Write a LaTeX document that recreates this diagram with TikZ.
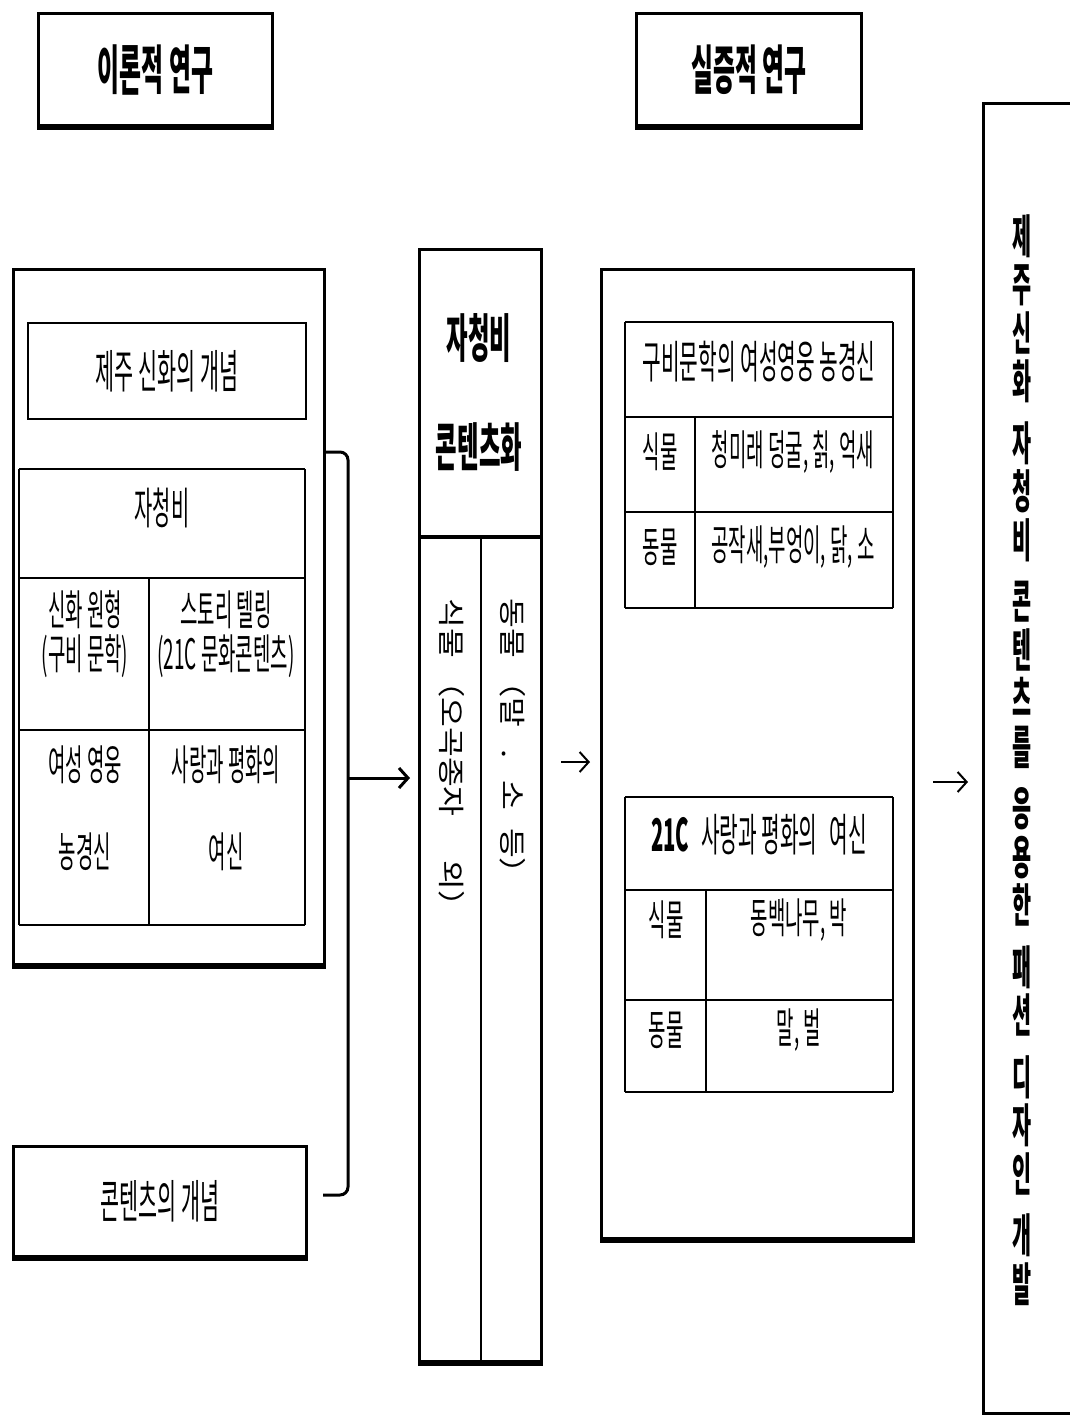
\documentclass[tikz,border=0pt]{standalone}
\usepackage{fontspec}
\usepackage{tikz}
\usetikzlibrary{arrows.meta}
\newfontfamily\krfont[FakeStretch=0.45]{Noto Sans CJK KR}
\newfontfamily\krwide[FakeStretch=1.2]{Noto Sans CJK KR}
\begin{document}
\begin{tikzpicture}[x=1pt,y=-1pt,>={Straight Barb[length=9pt,width=20pt]},
			frame/.style={draw,line width=3pt,anchor=north west,inner sep=0pt},
			thin box/.style={draw,line width=1.6pt,anchor=north west,inner sep=0pt},
			shade line/.style={line width=4pt},
			grid line/.style={line width=1.8pt},
			col line/.style={line width=1.2pt},
			title text/.style={font=\krfont\bfseries\fontsize{53}{56}\selectfont},
			big text/.style={font=\krfont\bfseries\fontsize{52}{56}\selectfont},
			head text/.style={font=\krfont\fontsize{45}{48}\selectfont},
			cell text/.style={font=\krfont\fontsize{42}{44}\selectfont,align=center},
			side text/.style={font=\krwide\fontsize{27}{30}\selectfont,rotate=-90,anchor=west,inner sep=0pt},
			bracket/.style={line width=3pt,rounded corners=8pt},
			big arrow/.style={->,line width=3pt,shorten >=8pt},
			small arrow/.style={->,line width=2pt}
			]
			
			\useasboundingbox (0,0) rectangle (1070,1416);
			\clip (0,0) rectangle (1070,1416);
			
			\node[frame,minimum width=234pt,minimum height=112pt,title text] (theory) at (37,12) {이론적 연구};
			\node[frame,minimum width=225pt,minimum height=112pt,title text] (empirical) at (635,12) {실증적 연구};
			
			\node[frame,minimum width=311pt,minimum height=695pt] (leftframe) at (12,268) {};
			\node[thin box,minimum width=278pt,minimum height=96pt,font=\krfont\fontsize{46}{48}\selectfont] (mythconcept) at (27,322) {제주 신화의 개념};
			\foreach \y in {469,578,730,925}
				\draw[grid line] (19,\y) -- (305,\y);
			\draw[col line] (19,469) -- (19,925) (305,469) -- (305,925) (149,578) -- (149,925);
			\node[cell text,font=\krfont\fontsize{44}{46}\selectfont] (jcb) at (162,508) {자청비};
			\node[cell text] (archetype) at (85,634) {신화 원형\\(구비 문학)};
			\node[cell text] (storytelling) at (226,634) {스토리 텔링\\(21C 문화콘텐츠)};
			\node[cell text] (heroine) at (85,765) {여성 영웅};
			\node[cell text] (farmgod) at (85,852) {농경신};
			\node[cell text] (lovepeace) at (226,765) {사랑과 평화의};
			\node[cell text] (goddess) at (226,852) {여신};
			
			\node[frame,minimum width=293pt,minimum height=110pt,font=\krfont\fontsize{46}{48}\selectfont] (contentconcept) at (12,1145) {콘텐츠의 개념};
			
			\node[frame,minimum width=122pt,minimum height=1112pt] (contents) at (418,248) {};
			\draw[line width=4pt] (418,537) -- (540,537);
			\draw[line width=2.5pt] (481,537) -- (481,1360);
			\node[big text] (jcbtitle) at (479,338) {자청비};
			\node[big text] (contentize) at (479,447) {콘텐츠화};
			\node[side text] (plants) at (452,598) {식물 （오곡종자\hspace{44pt}외）};
			\node[side text] (animals) at (513,598) {동물 （말\hspace{22pt}.\hspace{22pt}소\hspace{18pt}등）};
			
			\node[frame,minimum width=312pt,minimum height=969pt] (fieldwork) at (600,268) {};
			\foreach \y in {322,417,512,608,797,890,1000,1092}
				\draw[grid line] (625,\y) -- (893,\y);
			\draw[col line] (625,322) -- (625,608) (893,322) -- (893,608) (695,417) -- (695,608);
			\draw[col line] (625,797) -- (625,1092) (893,797) -- (893,1092) (706,890) -- (706,1092);
			\node[head text] (oralhero) at (759,362) {구비문학의 여성영웅 농경신};
			\node[cell text] (plantsA) at (660,452) {식물};
			\node[cell text] (plantsAlist) at (793,452) {청미래 덩굴, 칡, 억새};
			\node[cell text] (animalsA) at (660,547) {동물};
			\node[cell text] (animalsAlist) at (793,547) {공작새,부엉이, 닭, 소};
			\node[head text] (peacehead) at (759,835) {\textbf{21C}\hspace{12pt}사랑과 평화의\hspace{12pt}여신};
			\node[cell text] (plantsB) at (666,920) {식물};
			\node[cell text] (plantsBlist) at (799,920) {동백나무, 박};
			\node[cell text] (animalsB) at (666,1030) {동물};
			\node[cell text] (animalsBlist) at (799,1030) {말, 벌};
			
			\node[frame,minimum width=200pt,minimum height=1310pt] (goal) at (982,102) {};
			\node[font=\krfont\bfseries\fontsize{46}{48.5}\selectfont,align=center] (goaltext) at (1022,760)
				{제\\주\\신\\화\\[13pt]자\\청\\비\\[13pt]콘\\텐\\츠\\를\\[13pt]응\\용\\한\\[13pt]패\\션\\[13pt]디\\자\\인\\[13pt]개\\발};
			
			\foreach \b in {theory,empirical,leftframe,contentconcept,contents,fieldwork}
				\draw[shade line] ([yshift=-1pt]\b.south west) -- ([yshift=-1pt]\b.south east);
			
			\coordinate (brtop) at (323,452);
			\coordinate (brbot) at (323,1195);
			\coordinate (brmid) at (348,778);
			\coordinate (midarrow) at (0,762);
			\coordinate (goalarrow) at (0,782);
			\draw[bracket] (brtop) -- ++(25,0) |- (brbot);
			\draw[big arrow] (brmid) -- (contents.west |- brmid);
			\draw[small arrow,shorten <=18pt,shorten >=10pt] (contents.east |- midarrow) -- (fieldwork.west |- midarrow);
			\draw[small arrow,shorten <=18pt,shorten >=14pt] (fieldwork.east |- goalarrow) -- (goal.west |- goalarrow);
			
			\end{tikzpicture}
\end{document}
